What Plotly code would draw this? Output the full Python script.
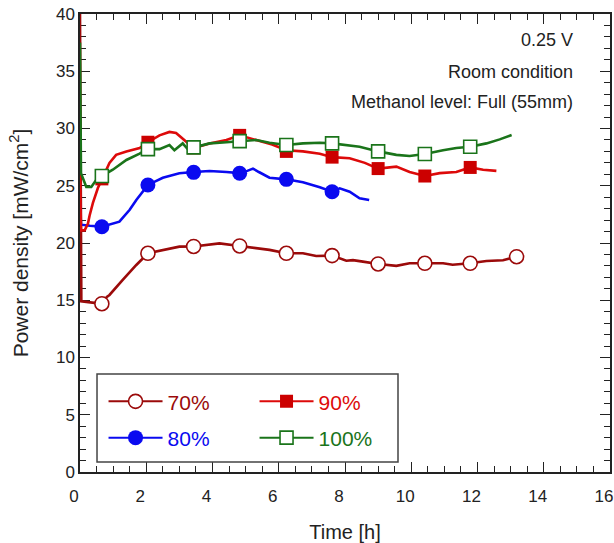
import plotly.graph_objects as go

# Power density of the cell held at 0.25 V, for four methanol concentrations
# (70 %, 80 %, 90 %, 100 %), recorded over time.

t70 = [0, 0.04, 0.5, 0.66, 0.81, 0.89, 1.29, 1.7, 2.05, 2.5, 3.0, 3.43, 3.91, 4.21,
       4.82, 5.32, 5.72, 6.23, 6.73, 7.13, 7.61, 8.04, 8.24, 8.54, 9.0, 9.55, 9.95,
       10.39, 10.96, 11.25, 11.77, 12.27, 12.77, 13.18]
p70 = [40, 14.9, 14.75, 14.7, 15.3, 15.46, 16.77, 18.08, 19.1, 19.4, 19.68, 19.7, 19.83,
       19.97, 19.74, 19.54, 19.4, 19.1, 19.1, 18.86, 18.9, 18.45, 18.5, 18.37, 18.17,
       18.0, 18.23, 18.23, 18.23, 18.1, 18.23, 18.43, 18.5, 18.8]

t80 = [0, 0.03, 0.3, 0.66, 1.19, 1.5, 1.7, 2.05, 2.5, 3.0, 3.43, 3.91, 4.42, 4.82, 5.05,
       5.22, 5.4, 5.72, 6.23, 6.73, 7.24, 7.61, 7.84, 8.14, 8.44, 8.73]
p80 = [23.5, 21.6, 21.5, 21.42, 21.86, 22.9, 23.76, 25.07, 25.7, 26.09, 26.2, 26.29, 26.2,
       26.1, 26.3, 26.5, 26.2, 25.7, 25.56, 25.3, 24.87, 24.48, 24.77, 24.48, 23.9, 23.76]

t90 = [0, 0.03, 0.14, 0.24, 0.29, 0.39, 0.54, 0.66, 0.89, 1.09, 1.4, 1.8, 2.05, 2.4, 2.7,
       2.9, 3.1, 3.3, 3.43, 3.91, 4.42, 4.82, 5.32, 5.8, 6.23, 6.73, 7.24, 7.61, 8.14, 8.6,
       9.0, 9.55, 9.95, 10.41, 10.86, 11.36, 11.78, 12.17, 12.57]
p90 = [26.5, 21.1, 21.1, 21.7, 22.4, 23.5, 24.8, 25.6, 27.0, 27.7, 28.0, 28.3, 28.8, 29.4,
       29.7, 29.6, 29.1, 28.6, 28.3, 28.7, 29.0, 29.4, 29.0, 28.6, 28.1, 28.0, 27.8, 27.5,
       27.4, 27.0, 26.5, 26.67, 26.2, 25.85, 26.1, 26.2, 26.6, 26.4, 26.3]

t100 = [0, 0.03, 0.19, 0.34, 0.49, 0.66, 0.99, 1.4, 1.8, 2.05, 2.4, 2.7, 2.85, 3.1, 3.25,
        3.43, 3.91, 4.42, 4.82, 5.32, 5.72, 6.23, 6.73, 7.24, 7.61, 8.04, 8.44, 9.0, 9.55,
        9.95, 10.41, 10.96, 11.36, 11.78, 12.27, 12.67, 13.03]
p100 = [37.5, 26.1, 24.9, 24.9, 25.5, 25.85, 26.4, 27.25, 27.8, 28.2, 28.2, 28.56, 28.1,
        28.7, 28.2, 28.35, 28.7, 28.8, 28.9, 29.0, 28.76, 28.56, 28.7, 28.76, 28.7, 28.56,
        28.4, 28.0, 27.7, 27.6, 27.77, 28.1, 28.3, 28.4, 28.7, 29.05, 29.43]

# marker sample times (every ~1.39 h) and the values at those times
t_mark = [0.66, 2.05, 3.43, 4.82, 6.23, 7.61, 9.0, 10.41, 11.78, 13.18]
m70 = [14.7, 19.1, 19.7, 19.74, 19.1, 18.9, 18.17, 18.23, 18.23, 18.8]
m80 = [21.42, 25.07, 26.17, 26.09, 25.56, 24.48]
m90 = [25.6, 28.8, 28.3, 29.4, 28.0, 27.5, 26.5, 25.85, 26.6]
m100 = [25.85, 28.2, 28.35, 28.9, 28.56, 28.7, 28.0, 27.77, 28.4]

labels = ["70%", "80%", "90%", "100%"]
colors = ["#9b0a0a", "#0a0af0", "#dd0a0a", "#1a741a"]
FONT = "Liberation Sans, Arial, sans-serif"
INK = "#222"

series = [
    (t70, p70, m70, dict(symbol="circle", size=14, color="white",
                         line=dict(color=colors[0], width=1.6))),
    (t80, p80, m80, dict(symbol="circle", size=15, color=colors[1],
                         line=dict(color=colors[1], width=0))),
    (t90, p90, m90, dict(symbol="square", size=13, color="#cc0000",
                         line=dict(color="#cc0000", width=0))),
    (t100, p100, m100, dict(symbol="square", size=13, color="white",
                            line=dict(color=colors[3], width=1.6))),
]
legend_of = ["legend", "legend2", "legend", "legend2"]

fig = go.Figure()
for i, (tx, py, my, mk) in enumerate(series):
    col = colors[i]
    fig.add_trace(go.Scatter(x=tx, y=py, mode="lines", line=dict(color=col, width=2.6),
                             showlegend=False, hoverinfo="skip"))
    fig.add_trace(go.Scatter(x=t_mark[:len(my)], y=my, mode="markers", marker=mk,
                             showlegend=False))

# legend entries (line with marker), arranged 70 % / 90 % over 80 % / 100 %
for i in [0, 2, 1, 3]:
    mk = series[i][3]
    fig.add_trace(go.Scatter(
        x=[None], y=[None], mode="lines+markers",
        name=f"<span style='color:{colors[i]}'>{labels[i]}</span>",
        line=dict(color=colors[i], width=2), marker=mk,
        legend=legend_of[i]))

tick_style = dict(ticks="inside", ticklen=10, tickwidth=1.3, tickcolor=INK,
                  showgrid=False, zeroline=False, layer="below traces",
                  automargin=False)
line_style = dict(showline=True, linecolor=INK, linewidth=1.5)

x_ticks = dict(range=[0, 16], dtick=2,
               minor=dict(dtick=0.5, ticks="inside", ticklen=6, tickcolor=INK))
y_ticks = dict(range=[0, 40], dtick=5,
               minor=dict(dtick=1, ticks="inside", ticklen=6, tickcolor=INK))

fig.update_layout(
    width=614, height=543,
    margin=dict(l=80, r=4, t=14, b=71),
    paper_bgcolor="white", plot_bgcolor="white",
    font=dict(family=FONT, color=INK),
    xaxis=dict(**x_ticks, **tick_style, **line_style, mirror=True,
               tickfont=dict(family=FONT, size=17, color=INK),
               ticklabelstandoff=8, ticklabelshift=-6, ticklabeloverflow="allow",
               title=dict(text="Time [h]", font=dict(family=FONT, size=20, color=INK),
                          standoff=22)),
    yaxis=dict(**y_ticks, **tick_style, **line_style, mirror=True,
               tickfont=dict(family=FONT, size=17, color=INK),
               title=dict(text="Power density [mW/cm<sup>2</sup>]",
                          font=dict(family=FONT, size=21, color=INK), standoff=22)),
    # tick marks repeated on the top and right edges of the frame
    xaxis2=dict(**x_ticks, **tick_style, overlaying="x", matches="x", side="top",
                showticklabels=False, anchor="y"),
    yaxis2=dict(**y_ticks, **tick_style, overlaying="y", matches="y", side="right",
                showticklabels=False, anchor="x"),
    legend=dict(orientation="h", x=0.0444, y=0.1535, xanchor="left", yanchor="middle",
                entrywidth=82, entrywidthmode="pixels", itemwidth=54,
                bgcolor="rgba(0,0,0,0)", font=dict(family=FONT, size=21)),
    legend2=dict(orientation="h", x=0.0444, y=0.0742, xanchor="left", yanchor="middle",
                 entrywidth=82, entrywidthmode="pixels", itemwidth=54,
                 bgcolor="rgba(0,0,0,0)", font=dict(family=FONT, size=21)),
    shapes=[dict(type="rect", xref="paper", yref="paper",
                 x0=0.0321, x1=0.6, y0=0.0218, y1=0.214,
                 line=dict(color="#444", width=1.5), fillcolor="rgba(0,0,0,0)")],
)

# invisible trace so the top/right tick axes are drawn
fig.add_trace(go.Scatter(x=[None], y=[None], xaxis="x2", yaxis="y2",
                         showlegend=False, hoverinfo="skip"))

notes = ["0.25 V", "Room condition", "Methanol level: Full (55mm)"]
note_y = [0.943, 0.874, 0.8085]
for txt, yy in zip(notes, note_y):
    fig.add_annotation(text=txt, xref="paper", yref="paper", x=0.934, y=yy,
                       xanchor="right", yanchor="middle", showarrow=False,
                       font=dict(family=FONT, size=18, color=INK))

fig.write_html("out.html")
